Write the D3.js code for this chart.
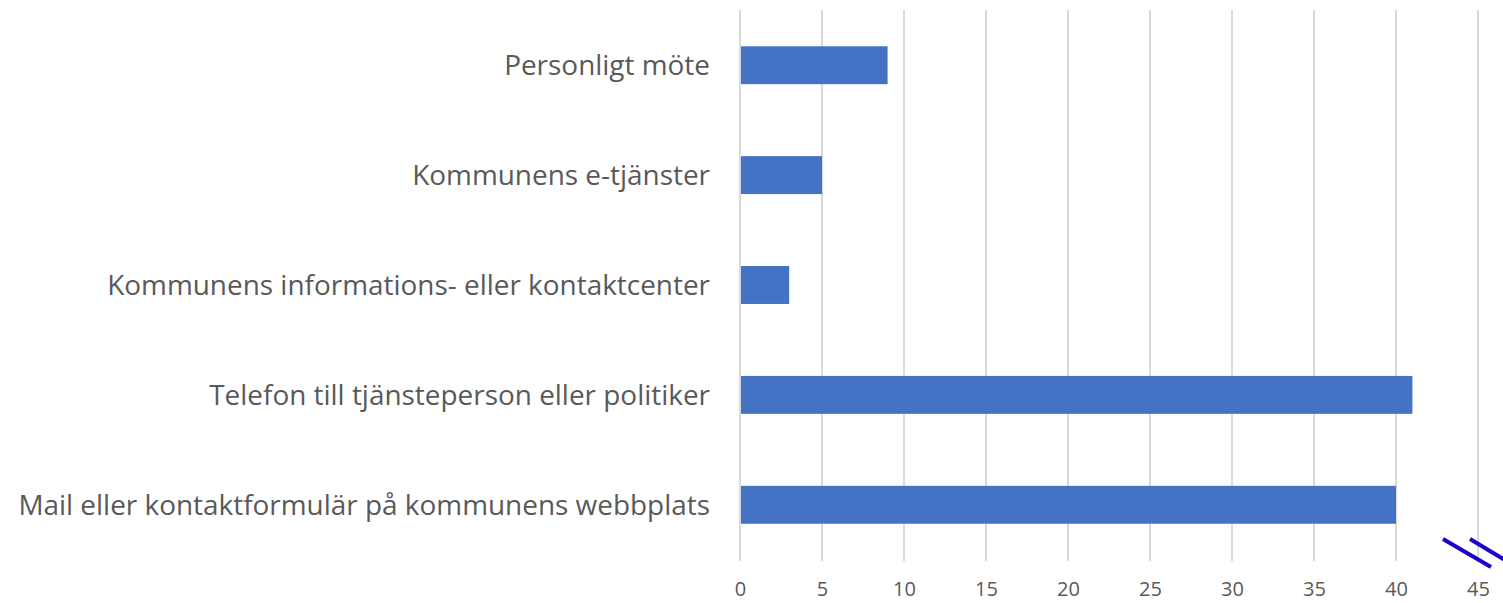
<!DOCTYPE html>
<html lang="sv">
<head>
<meta charset="UTF-8">
<title>Kontaktvägar</title>
<script src="https://cdn.jsdelivr.net/npm/d3@7"></script>
<style>
  body { margin: 0; background: #fff; }
  svg { display: block; }
</style>
</head>
<body>
<svg width="1503" height="603"></svg>
<script>
// kategorier uppifrån och ner
var categories = [
  'Personligt möte',
  'Kommunens e-tjänster',
  'Kommunens informations- eller kontaktcenter',
  'Telefon till tjänsteperson eller politiker',
  'Mail eller kontaktformulär på kommunens webbplats'
];
var values = [9, 5, 3, 41, 40];
var ticks = [0, 5, 10, 15, 20, 25, 30, 35, 40, 45];

var svg = d3.select('svg');
var textColor = '#595959';
var font = 'Open Sans, Noto Sans, sans-serif';

var x = d3.scaleLinear().domain([0, 45]).range([740, 1478]);
var y = d3.scaleBand().domain(categories).range([10, 560]).paddingInner(0.655).paddingOuter(0.33);

// rutnät
svg.append('g')
  .selectAll('line')
  .data(ticks)
  .enter()
  .append('line')
  .attr('x1', function (d) { return x(d); })
  .attr('x2', function (d) { return x(d); })
  .attr('y1', 10)
  .attr('y2', 561)
  .attr('stroke', '#d9d9d9')
  .attr('stroke-width', 2);

// staplar
svg.append('g')
  .selectAll('rect')
  .data(values)
  .enter()
  .append('rect')
  .attr('x', x(0) + 1)
  .attr('y', function (d, i) { return y(categories[i]); })
  .attr('width', function (d) { return x(d) - x(0) - 1; })
  .attr('height', y.bandwidth())
  .attr('fill', '#4472c4');

// x-axel (axeln sätter egen font, så vi skriver över efteråt)
var axisX = d3.axisBottom(x).tickValues(ticks).tickSize(0).tickPadding(0);
var gx = svg.append('g')
  .attr('transform', 'translate(0,582)')
  .call(axisX)
  .attr('font-size', 20)
  .attr('font-family', font);
gx.select('.domain').remove();
gx.selectAll('text')
  .attr('fill', textColor)
  .attr('dy', '0.71em');

// kategorietiketter
var labels = svg.append('g')
  .selectAll('text')
  .data(categories)
  .enter()
  .append('text')
  .attr('x', 710)
  .attr('y', function (d) { return y(d) + y.bandwidth() / 2; })
  .attr('dy', '0.35em')
  .attr('text-anchor', 'end')
  .attr('fill', textColor)
  .attr('font-family', font)
  .attr('font-size', 24)
  .text(function (d) { return d; });

// anpassa teckenstorlek så längsta etiketten blir ca 692 px bred
var maxW = d3.max(labels.nodes(), function (n) { return n.getComputedTextLength(); });
labels.attr('font-size', 24 * 692 / maxW);

// axelbrytningsmarkering
var brk = [[[1443, 539], [1491, 567]], [[1470, 539], [1510, 563]]];
svg.append('g')
  .selectAll('path')
  .data(brk)
  .enter()
  .append('path')
  .attr('d', d3.line())
  .attr('stroke', '#1a00cc')
  .attr('stroke-width', 4)
  .attr('fill', 'none');
</script>
</body>
</html>
